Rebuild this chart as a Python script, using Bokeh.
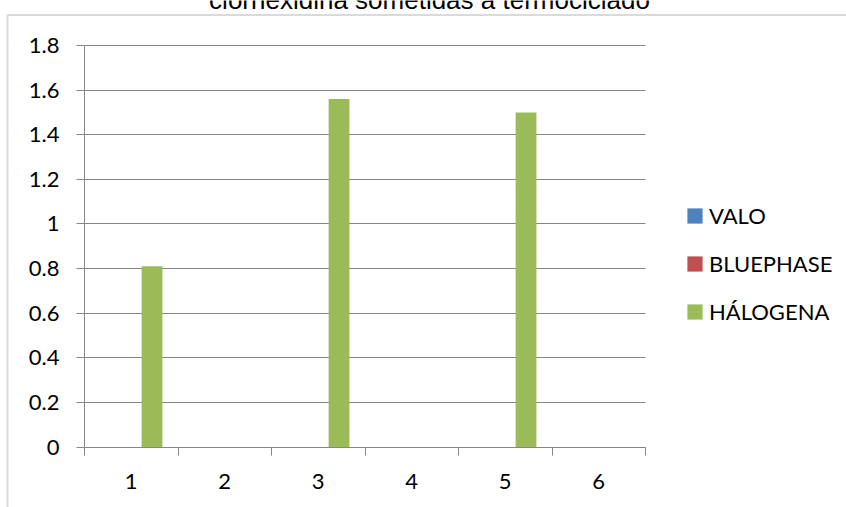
from bokeh.plotting import figure
from bokeh.models import (FixedTicker, Legend, LegendItem, Label, BoxAnnotation,
                          ColumnDataSource, Range1d, LinearAxis, Grid)
from bokeh.transform import dodge
from bokeh.embed import file_html
from bokeh.resources import INLINE

# --- data -------------------------------------------------------------
categories = [1, 2, 3, 4, 5, 6]
valo = [0, 0, 0, 0, 0, 0]
bluephase = [0, 0, 0, 0, 0, 0]
halogena = [0.81, 0, 1.56, 0, 1.50, 0]

series_names = ["VALO", "BLUEPHASE", "HÁLOGENA"]
series_colors = ["#4F81BD", "#C0504D", "#9BBB59"]

y_ticks = [0, 0.2, 0.4, 0.6, 0.8, 1, 1.2, 1.4, 1.6, 1.8]
y_tick_labels = ["0", "0.2", "0.4", "0.6", "0.8", "1", "1.2", "1.4", "1.6", "1.8"]
category_bounds = [0.5, 1.5, 2.5, 3.5, 4.5, 5.5, 6.5]

title_text = "clorhexidina sometidas a termociclado"

# --- layout (pixels) ------------------------------------------------------
W, H = 846, 507
PLOT_LEFT, PLOT_RIGHT = 84, 645        # plot area inside the chart area
PLOT_TOP, PLOT_BOTTOM = 45, 446.5
CHART_LEFT, CHART_TOP = 7, 14.5        # chart-area border
X0, X1 = 0.5, 6.5
Y0, Y1 = 0.0, 1.8

# the frame fills the whole canvas; data ranges are chosen so that the
# category/value extents land on the plot-area rectangle
kx = (PLOT_RIGHT - PLOT_LEFT) / (X1 - X0)
ky = (PLOT_BOTTOM - PLOT_TOP) / (Y1 - Y0)
x_range = Range1d(X0 - PLOT_LEFT / kx, X1 + (W - PLOT_RIGHT) / kx)
y_range = Range1d(Y0 - (H - PLOT_BOTTOM) / ky, Y1 + PLOT_TOP / ky)


def px_to_x(px):
    return x_range.start + px / kx


def px_to_y(py):
    return y_range.end - py / ky


AXIS_GREY = "#868686"
LABEL_FONT = "Lato"
LABEL_SIZE = "22px"

source = ColumnDataSource(dict(cat=categories, VALO=valo,
                               BLUEPHASE=bluephase, HALOGENA=halogena))

p = figure(width=W, height=H, x_range=x_range, y_range=y_range,
           x_axis_type=None, y_axis_type=None,
           output_backend="svg", toolbar_location=None,
           min_border_left=0, min_border_right=0,
           min_border_top=0, min_border_bottom=0)
p.outline_line_color = None
p.background_fill_color = "white"
p.border_fill_color = "white"

# horizontal gridlines limited to the plot area
p.add_layout(Grid(dimension=1, ticker=FixedTicker(ticks=y_ticks),
                  bounds=(Y0, Y1), cross_bounds=(X0, X1),
                  grid_line_color=AXIS_GREY, grid_line_width=1))

# clustered bars: three series per category, gap of 1.5 bar widths
bar_w = 1 / 4.5
columns = ["VALO", "BLUEPHASE", "HALOGENA"]
offsets = [-bar_w, 0, bar_w]
renderers = []
for col, off, color in zip(columns, offsets, series_colors):
    r = p.vbar(x=dodge("cat", off, range=p.x_range), top=col, bottom=0,
               width=bar_w, source=source, fill_color=color, line_color=None)
    renderers.append(r)

# --- axes ---------------------------------------------------------------
xax = LinearAxis(fixed_location=Y0, bounds=(X0, X1),
                 ticker=FixedTicker(ticks=categories, minor_ticks=category_bounds))
xax.major_tick_in = 0
xax.major_tick_out = 0
xax.minor_tick_in = 0
xax.minor_tick_out = 8
xax.minor_tick_line_color = AXIS_GREY
xax.axis_line_color = AXIS_GREY
xax.major_label_standoff = 19
xax.major_label_text_font = LABEL_FONT
xax.major_label_text_font_size = LABEL_SIZE
xax.major_label_text_color = "black"
p.add_layout(xax, "below")

yax = LinearAxis(fixed_location=X0, bounds=(Y0, Y1),
                 ticker=FixedTicker(ticks=y_ticks))
yax.major_label_overrides = {t: s for t, s in zip(y_ticks, y_tick_labels)}
yax.major_tick_in = 0
yax.major_tick_out = 8
yax.major_tick_line_color = AXIS_GREY
yax.minor_tick_line_color = None
yax.axis_line_color = AXIS_GREY
yax.major_label_standoff = 17
yax.major_label_text_font = LABEL_FONT
yax.major_label_text_font_size = LABEL_SIZE
yax.major_label_text_color = "black"
p.add_layout(yax, "left")

# --- legend -------------------------------------------------------------
legend = Legend(items=[LegendItem(label=n, renderers=[r])
                       for n, r in zip(series_names, renderers)],
                location=(685, 182), orientation="vertical",
                border_line_color=None, background_fill_alpha=0,
                padding=0, margin=0, glyph_width=19, glyph_height=19,
                label_standoff=5, spacing=21, label_height=21,
                label_text_font=LABEL_FONT, label_text_font_size=LABEL_SIZE,
                label_text_color="black")
p.add_layout(legend)

# --- chart-area border and title ----------------------------------------
border = BoxAnnotation(left=px_to_x(CHART_LEFT), right=px_to_x(W + 20),
                       top=px_to_y(CHART_TOP), bottom=px_to_y(H + 20),
                       fill_alpha=0, line_color=AXIS_GREY, line_width=2,
                       level="underlay")
p.add_layout(border)

title = Label(x=429, y=H + 1, x_units="screen", y_units="screen",
              text=title_text, text_align="center", text_baseline="alphabetic",
              text_font="Liberation Sans", text_font_size="26px",
              text_color="black")
p.add_layout(title)

open("out.html", "w").write(file_html(p, INLINE))
